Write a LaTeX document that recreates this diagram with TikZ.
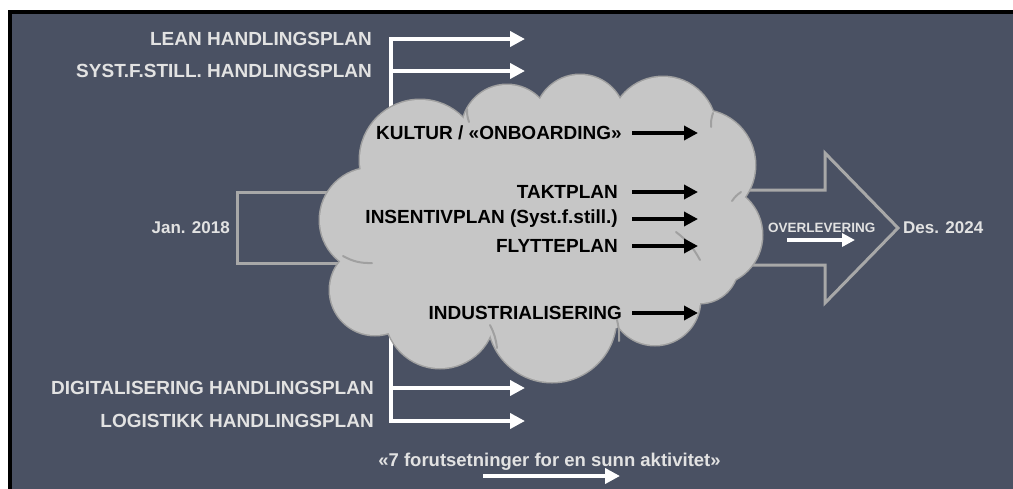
\documentclass[tikz,border=0pt]{standalone}
\usepackage{fontspec}
\setmainfont{Liberation Sans}
\usetikzlibrary{arrows.meta}
\definecolor{bg}{HTML}{4A5163}
\definecolor{lighttxt}{HTML}{E2E2E2}
\definecolor{cloudfill}{HTML}{C6C6C6}
\definecolor{cloudline}{HTML}{A0A0A0}
\definecolor{outlinegray}{HTML}{A8A8A8}
\tikzset{
  wlabel/.style={text=lighttxt,font=\bfseries\fontsize{19}{22}\selectfont,inner sep=0pt,anchor=east},
  blabel/.style={text=black,font=\bfseries\fontsize{19}{22}\selectfont,inner sep=0pt,anchor=east},
  warrow/.style={draw=white,line width=4.5pt,-{Triangle[length=15pt,width=15pt]}},
  wline/.style={draw=white,line width=4.5pt},
  barrow/.style={draw=black,line width=4.5pt,-{Triangle[length=14pt,width=14pt]}},
  hollow/.style={draw=outlinegray,line width=3pt,line join=miter},
  innerarc/.style={draw=cloudline,line width=2pt,line cap=round},
}
\begin{document}
\begin{tikzpicture}[x=1pt,y=-1pt]
\useasboundingbox (0,0) rectangle (1013,488);
\fill[white] (0,0) rectangle (1020,490);
\fill[black] (8,10) rectangle (1020,490);
\fill[bg] (12,14) rectangle (1020,490);

% left box and big hollow arrow
\draw[hollow] (380,192) -- (237,192) -- (237,263) -- (380,263);
\draw[hollow] (740,190) -- (825,190) -- (825,153) -- (898,228) -- (825,303) -- (825,265) -- (740,265);

% white spine and arrows
\coordinate (vtop) at (391,37);
\coordinate (vbot) at (391,423);
\draw[wline] (vtop) -- (vbot);
\coordinate (a1s) at (389,39);  \coordinate (a1e) at (525,39);
\coordinate (a2s) at (389,71);  \coordinate (a2e) at (525,71);
\coordinate (a3s) at (389,388); \coordinate (a3e) at (525,388);
\coordinate (a4s) at (389,421); \coordinate (a4e) at (525,421);
\draw[warrow] (a1s) -- (a1e);
\draw[warrow] (a2s) -- (a2e);
\draw[warrow] (a3s) -- (a3e);
\draw[warrow] (a4s) -- (a4e);

% cloud
\def\cloudlist{420/160/60, 507/130/45, 580/120/45, 663/130/53, 700/165/55, 712/235/50, 700/265/38, 655/300/45, 552/318/64, 440/313/55, 375/290/45, 372/220/52}
\foreach \cx/\cy/\r in \cloudlist
  \draw[cloudline,line width=3pt] (\cx,\cy) circle[radius=\r pt];
\foreach \cx/\cy/\r in \cloudlist
  \fill[cloudfill] (\cx,\cy) circle[radius=\r pt];
\fill[cloudfill] (545,225) ellipse[x radius=160pt,y radius=115pt];
% inner arcs of the cloud
\draw[innerarc] (343,256) to[bend right=15] (372,263);
\draw[innerarc] (490,325) to[bend left=10] (497,348);
\draw[innerarc] (617,320) to[bend left=8] (619,341);
\draw[innerarc] (676,232) to[bend left=12] (700,260);
\draw[innerarc] (741,192) to[bend right=10] (732,201);
\draw[innerarc] (713,113) to[bend right=10] (711,127);
\draw[innerarc] (467,109) to[bend right=10] (469,122);

% outer labels
\node[wlabel] (lean) at (372,39) {LEAN HANDLINGSPLAN};
\node[wlabel] (syst) at (372,71) {SYST.F.STILL. HANDLINGSPLAN};
\node[wlabel] (digi) at (374,388) {DIGITALISERING HANDLINGSPLAN};
\node[wlabel] (logi) at (374,421) {LOGISTIKK HANDLINGSPLAN};
\node[wlabel,font=\bfseries\fontsize{17}{20}\selectfont] (jan) at (230,228) {Jan. 2018};

% cloud labels
\node[blabel] (kultur) at (622,133) {KULTUR / «ONBOARDING»};
\node[blabel] (takt) at (618,192) {TAKTPLAN};
\node[blabel] (insent) at (618,219) {INSENTIVPLAN (Syst.f.still.)};
\node[blabel] (flytte) at (618,246) {FLYTTEPLAN};
\node[blabel] (indus) at (622,313) {INDUSTRIALISERING};
\foreach \n/\yy in {k/133, t/192, i/219, f/246, d/313}{
  \coordinate (\n s) at (632,\yy);
  \coordinate (\n e) at (698,\yy);
  \draw[barrow] (\n s) -- (\n e);
}

% right side
\node[wlabel,anchor=west,font=\bfseries\fontsize{13.5}{16}\selectfont] (over) at (768,228) {OVERLEVERING};
\coordinate (os) at (787,240); \coordinate (oe) at (855,240);
\draw[draw=white,line width=4pt,-{Triangle[length=13pt,width=13pt]}] (os) -- (oe);
\node[wlabel,anchor=west,font=\bfseries\fontsize{17}{20}\selectfont] (des) at (903,228) {Des. 2024};

% bottom
\node[wlabel,anchor=center,font=\bfseries\fontsize{18.5}{22}\selectfont] (seven) at (549.5,462) {«7 forutsetninger for en sunn aktivitet»};
\coordinate (ss) at (483,476); \coordinate (se) at (620,476);
\draw[draw=white,line width=4pt,-{Triangle[length=15pt,width=15pt]}] (ss) -- (se);
\end{tikzpicture}
\end{document}
